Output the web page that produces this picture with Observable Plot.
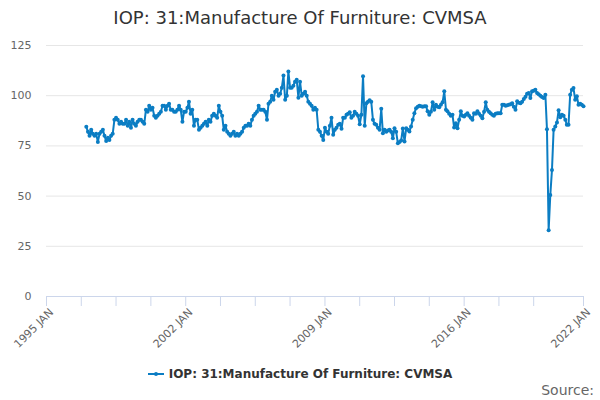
<!DOCTYPE html>
<html>
<head>
<meta charset="utf-8">
<script src="https://cdn.jsdelivr.net/npm/d3@7"></script>
<script src="https://cdn.jsdelivr.net/npm/@observablehq/plot@0.6"></script>
<style>
  html, body { margin: 0; padding: 0; background: #fff; }
  body { width: 600px; height: 400px; position: relative; overflow: hidden; font-family: "DejaVu Sans", sans-serif; }
  #title { position: absolute; top: 0; left: 0; width: 600px; height: 36px; line-height: 36px; text-align: center; font-size: 18px; color: #333; }
  #chart { position: absolute; top: 36px; left: 0; }
  #legend { position: absolute; top: 362px; left: 0; width: 600px; height: 24px; line-height: 24px; text-align: center; font-size: 12px; font-weight: bold; color: #333; }
  #legend svg { vertical-align: middle; margin-right: 5px; position: relative; top: -1px; }
  #source { position: absolute; top: 381px; right: 6px; line-height: 18px; font-size: 14px; color: #666; }
</style>
</head>
<body>
<div id="title"></div>
<div id="chart"></div>
<div id="legend"></div>
<div id="source">Source:</div>
<script>
const chartTitle = "IOP: 31:Manufacture Of Furniture: CVMSA";
const seriesName = "IOP: 31:Manufacture Of Furniture: CVMSA";
const lineColor = "#0b7dc3";

// Monthly values, starting January 1997
const startYear = 1997;
const values = [
  84.5, 82, 80, 83, 81, 80, 81, 77, 81, 82, 83, 80,            // 1997
  77.5, 79, 78, 80, 81, 88, 89, 88, 86, 87, 86, 86,            // 1998
  88, 85, 87, 84, 88, 86, 85, 87, 88, 88, 87, 86,              // 1999
  93, 92, 95, 93, 94, 90, 89, 90, 91, 92, 95, 95,              // 2000
  93, 95, 96, 93, 93, 92, 92, 93, 95, 93, 87, 92,              // 2001
  92, 94, 97, 91, 93, 85, 88, 88, 83, 84, 85, 86,              // 2002
  87, 85, 88, 87, 90, 91, 90, 89, 95, 92, 90, 83,              // 2003
  85, 82, 81, 80, 81, 82, 80, 81, 80, 81, 82, 84,              // 2004
  85, 85, 86, 85, 88, 90, 91, 92, 95, 93, 93, 93,              // 2005
  92, 88, 96, 97, 100, 98, 102, 103, 100, 101, 104, 110,       // 2006
  98, 100, 112, 104, 104, 105, 107, 108, 99, 107, 100, 101,    // 2007
  102, 100, 97, 96, 95, 93, 94, 93, 83, 82, 80, 78,            // 2008
  84, 82, 81, 85, 89, 80.5, 83, 84, 85.5, 86, 83.5, 89,        // 2009
  89, 90.5, 91, 91.7, 89, 90, 92, 91, 90, 85.8, 90.5, 109.7,   // 2010
  85, 96.3, 97, 97.7, 97, 88, 86, 85.5, 84, 83, 93.5, 81.3,    // 2011
  83, 82, 82.7, 83, 82, 78.8, 83.8, 82, 76.3, 77, 77.7, 83.7,  // 2012
  77.2, 83.8, 83, 82.2, 84.7, 88, 91.3, 93.8, 94.5, 95, 94.7, 94.5, // 2013
  94.7, 94.7, 92.2, 90.5, 92, 96.7, 93, 95.5, 94.5, 94.3, 95.5, 96.7, // 2014
  102.2, 93, 92.2, 91, 90, 90.5, 84.2, 86.3, 83.8, 88, 92.2, 90, // 2015
  89.7, 90.5, 91.3, 90, 89, 88, 91.3, 91, 92.2, 91, 90, 88.8,  // 2016
  92, 96.7, 93, 92, 91.3, 90.5, 90, 91, 91.3, 91.3, 91.3, 95.5, // 2017
  95.5, 95, 95.3, 95.5, 95.8, 96.3, 94.5, 93, 97.2, 96.5, 96.3, 97, // 2018
  98.3, 99.5, 101, 101.3, 98.8, 102.2, 102.5, 103, 101.3, 100.7, 100, 99.4, // 2019
  98.8, 100.5, 83.3, 33, 50.5, 63, 83, 84.7, 86.7, 92.7, 89.3, 90.5, // 2020
  90, 88, 85.5, 85.5, 100.5, 103, 103.8, 98, 99.7, 95.5, 96, 95.5,  // 2021
  94.7                                                          // 2022
];

const yTicks = [0, 25, 50, 75, 100, 125];
const xDomainYears = [1995, 2022];
const tickStepMonths = 21;
const labeledYears = [1995, 2002, 2009, 2016, 2022];
const tickLabelSuffix = " JAN";

const data = values.map((v, i) => ({ date: new Date(Date.UTC(startYear, i, 1)), value: v }));

const xDomain = xDomainYears.map(y => new Date(Date.UTC(y, 0, 1)));
const xTicks = [];
for (let m = 0; ; m += tickStepMonths) {
  const d = new Date(Date.UTC(xDomainYears[0], m, 1));
  if (d > xDomain[1]) break;
  xTicks.push(d);
}
if (+xTicks[xTicks.length - 1] !== +xDomain[1]) {
  if ((xDomain[1] - xTicks[xTicks.length - 1]) < 1000 * 3600 * 24 * 365) xTicks.pop();
  xTicks.push(xDomain[1]);
}
const fmtTick = d => (d.getUTCMonth() === 0 && labeledYears.includes(d.getUTCFullYear())) ? d.getUTCFullYear() + tickLabelSuffix : "";

document.getElementById("title").textContent = chartTitle;

const plot = Plot.plot({
  width: 600,
  height: 320,
  marginLeft: 46,
  marginRight: 17,
  marginTop: 9,
  marginBottom: 60,
  style: { fontFamily: "DejaVu Sans, sans-serif", fontSize: "11px", background: "#fff", overflow: "visible" },
  x: { type: "utc", domain: xDomain },
  y: { domain: [0, 125] },
  marks: [
    Plot.gridY(yTicks, { stroke: "#e6e6e6", strokeOpacity: 1 }),
    Plot.axisY(yTicks, { tickSize: 0, tickPadding: 15, fill: "#666", label: null }),
    Plot.ruleY([0], { stroke: "#ccd6eb", strokeWidth: 1 }),
    Plot.axisX(xTicks, { tickSize: 10, stroke: "#ccd6eb", strokeOpacity: 1, text: null, label: null }),
    Plot.axisX(xTicks, { tickSize: 10, stroke: "none", fill: "#666", tickFormat: fmtTick, tickRotate: -45, tickPadding: 2, dx: 5, dy: 2, label: null }),
    Plot.line(data, { x: "date", y: "value", stroke: lineColor, strokeWidth: 2 }),
    Plot.dot(data, { x: "date", y: "value", fill: lineColor, r: 2 })
  ]
});
document.getElementById("chart").appendChild(plot);

const legend = document.getElementById("legend");
legend.innerHTML = `<svg width="16" height="12"><line x1="0" y1="6" x2="16" y2="6" stroke="${lineColor}" stroke-width="2"/><circle cx="8" cy="6" r="2" fill="${lineColor}"/></svg>`;
legend.appendChild(document.createTextNode(seriesName));
</script>
</body>
</html>
